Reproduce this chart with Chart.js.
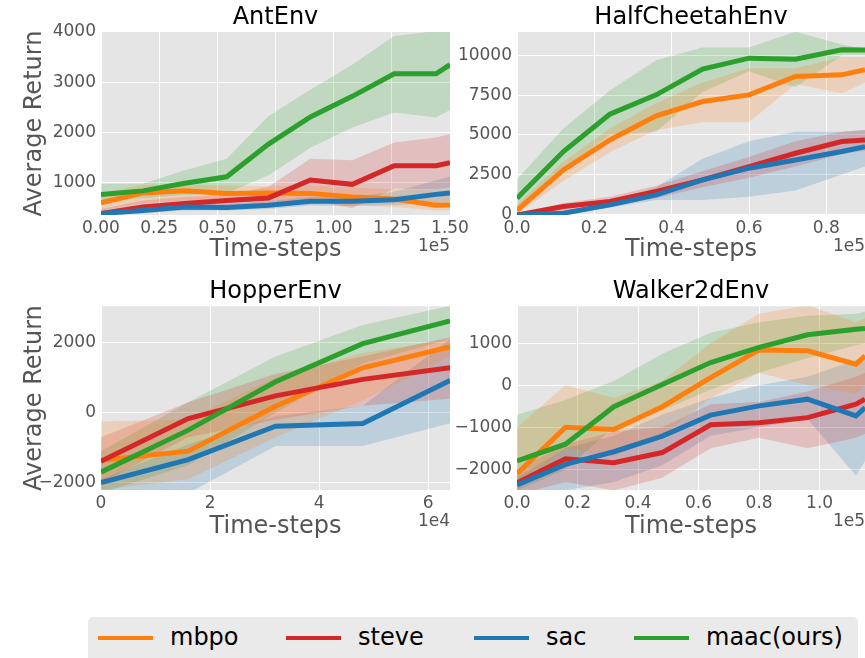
<!DOCTYPE html>
<html>
<head>
<meta charset="utf-8">
<script src="https://cdn.jsdelivr.net/npm/chart.js@4.4.1/dist/chart.umd.min.js"></script>
<style>
  body { margin: 0; width: 865px; height: 658px; overflow: hidden; position: relative; background: #fff; font-family: 'DejaVu Sans', sans-serif; }
  canvas { position: absolute; }
  #legend { position: absolute; left: 88px; top: 617px; width: 770px; height: 52px; background: #eaeaea; border-radius: 5px; }
  .key { position: absolute; top: 19px; width: 55px; height: 4px; }
  .lab { position: absolute; top: 5px; height: 30px; line-height: 30px; font-size: 24px; color: #000; white-space: nowrap; }
</style>
</head>
<body>
<canvas id="ant" width="480" height="270" style="left:0;top:0"></canvas>
<canvas id="cheetah" width="415" height="270" style="left:450px;top:0"></canvas>
<canvas id="hopper" width="480" height="275" style="left:0;top:270px"></canvas>
<canvas id="walker" width="415" height="275" style="left:450px;top:270px"></canvas>

<div id="legend">
  <span class="key" style="left:10px;background:#ff7f0e"></span><span class="lab" style="left:82px">mbpo</span>
  <span class="key" style="left:198px;background:#d62728"></span><span class="lab" style="left:270px">steve</span>
  <span class="key" style="left:386px;background:#1f77b4"></span><span class="lab" style="left:458px">sac</span>
  <span class="key" style="left:546px;background:#2ca02c"></span><span class="lab" style="left:618px">maac(ours)</span>
</div>

<script>
// ---- AntEnv (x in time-steps, shown as 1e5) ----
const antSteps   = [0, 18000, 36000, 54000, 72000, 90000, 108000, 126000, 144000, 150000];
const antMbpo    = [600, 800, 840, 790, 800, 790, 720, 680, 555, 560];
const antMbpoLo  = [450, 600, 650, 600, 650, 600, 560, 520, 450, 450];
const antMbpoHi  = [800, 960, 960, 950, 930, 950, 900, 870, 850, 850];
const antSteve   = [390, 520, 590, 650, 700, 1055, 970, 1340, 1340, 1400];
const antSteveLo = [360, 420, 480, 540, 560, 650, 500, 880, 870, 900];
const antSteveHi = [480, 650, 720, 760, 920, 1480, 1450, 1800, 1900, 1970];
const antSac     = [390, 450, 520, 510, 555, 635, 635, 665, 770, 800];
const antSacLo   = [360, 390, 450, 450, 480, 550, 540, 560, 600, 620];
const antSacHi   = [430, 520, 590, 580, 640, 720, 720, 820, 1050, 1120];
const antMaac    = [770, 840, 990, 1120, 1770, 2310, 2720, 3170, 3170, 3350];
const antMaacLo  = [600, 700, 760, 800, 1150, 1700, 2100, 2400, 2300, 2450];
const antMaacHi  = [980, 980, 1250, 1480, 2330, 2850, 3350, 3920, 4020, 4020];
const antXTicks  = [0, 25000, 50000, 75000, 100000, 125000, 150000];
const antYTicks  = [1000, 2000, 3000, 4000];

// ---- HalfCheetahEnv ----
const hcSteps   = [0, 12000, 24000, 36000, 48000, 60000, 72000, 84000, 90000];
const hcMbpo    = [250, 2790, 4680, 6200, 7100, 7520, 8680, 8780, 9100];
const hcMbpoLo  = [0, 2100, 3900, 5300, 5800, 5800, 8200, 7600, 8300];
const hcMbpoHi  = [600, 3300, 5400, 7000, 8300, 9200, 9200, 9900, 9900];
const hcSteve   = [-50, 480, 800, 1430, 2160, 3000, 3840, 4580, 4680];
const hcSteveLo = [-50, 200, 500, 1000, 1700, 2300, 3000, 3800, 4000];
const hcSteveHi = [0, 700, 1100, 1800, 2700, 3600, 4600, 5200, 5300];
const hcSac     = [-50, 60, 590, 1220, 2160, 2900, 3420, 3950, 4260];
const hcSacLo   = [-50, 0, 400, 900, 900, 1100, 1500, 2500, 3000];
const hcSacHi   = [0, 150, 750, 1700, 3500, 4600, 5200, 5200, 5300];
const hcMaac    = [1000, 3950, 6300, 7520, 9140, 9830, 9770, 10360, 10350];
const hcMaacLo  = [0, 2800, 5000, 5200, 7700, 9000, 8000, 10000, 10000];
const hcMaacHi  = [2200, 5400, 7800, 9700, 10500, 10500, 11500, 10700, 10400];
const hcXTicks  = [0, 20000, 40000, 60000, 80000];
const hcYTicks  = [0, 2500, 5000, 7500, 10000];

// ---- HopperEnv (shown as 1e4) ----
const hopSteps   = [0, 16000, 32000, 48000, 64000];
const hopMbpo    = [-1360, -1100, 180, 1280, 1880];
const hopMbpoLo  = [-2200, -1900, -700, 350, 1600];
const hopMbpoHi  = [-250, -200, 1000, 1700, 2100];
const hopSteve   = [-1390, -170, 480, 950, 1280];
const hopSteveLo = [-2000, -700, -200, 200, 400];
const hopSteveHi = [-700, 300, 1100, 1600, 2150];
const hopSac     = [-2000, -1340, -390, -310, 920];
const hopSacLo   = [-2300, -2300, -950, -950, -300];
const hopSacHi   = [-1900, -900, -100, 200, 2100];
const hopMaac    = [-1700, -500, 880, 1970, 2620];
const hopMaacLo  = [-2300, -1500, 0, 1400, 2100];
const hopMaacHi  = [-1100, 300, 1600, 2500, 3050];
const hopXTicks  = [0, 20000, 40000, 60000];
const hopYTicks  = [-2000, 0, 2000];

// ---- Walker2dEnv ----
const wkSteps   = [0, 16000, 32000, 48000, 64000, 80000, 96000, 112000, 115000];
const wkMbpo    = [-2100, -1000, -1050, -510, 180, 840, 820, 500, 700];
const wkMbpoLo  = [-2500, -1500, -1700, -1200, -300, 300, 0, -200, 0];
const wkMbpoHi  = [-1000, 0, -300, 100, 1000, 1700, 1900, 1500, 1600];
const wkSteve   = [-2320, -1750, -1840, -1600, -940, -890, -770, -450, -330];
const wkSteveLo = [-2600, -2300, -2500, -2200, -1500, -1250, -1500, -1250, -1150];
const wkSteveHi = [-2000, -1400, -1100, -1000, -450, -400, -150, 200, 300];
const wkSac     = [-2370, -1880, -1580, -1210, -710, -490, -330, -730, -530];
const wkSacLo   = [-2600, -2500, -2300, -1900, -1200, -1000, -800, -2150, -1800];
const wkSacHi   = [-2200, -1500, -1200, -700, -300, 0, 200, 600, 700];
const wkMaac    = [-1800, -1400, -510, 20, 540, 900, 1200, 1330, 1350];
const wkMaacLo  = [-2500, -2000, -1000, -600, -100, 300, 650, 950, 1000];
const wkMaacHi  = [-700, -350, 100, 750, 1250, 1500, 1650, 1700, 1750];
const wkXTicks  = [0, 20000, 40000, 60000, 80000, 100000];
const wkYTicks  = [-2000, -1000, 0, 1000];

const methods = ['mbpo', 'steve', 'sac', 'maac(ours)'];
const colors = ['#ff7f0e', '#d62728', '#1f77b4', '#2ca02c'];
const bandColors = ['rgba(255,127,14,0.2)', 'rgba(214,39,40,0.2)', 'rgba(31,119,180,0.2)', 'rgba(44,160,44,0.2)'];

Chart.defaults.font.family = "'DejaVu Sans', sans-serif";

// grey panel behind the plot area
const plotBg = {
    id: 'plotBg',
    beforeDraw(chart) {
        const { ctx, chartArea: a } = chart;
        ctx.save();
        ctx.fillStyle = '#e5e5e5';
        ctx.fillRect(a.left, a.top, a.width, a.height);
        ctx.restore();
    }
};

// the "1e5" / "1e4" offset text under the x axis
const offsetText = {
    id: 'offsetText',
    afterDraw(chart, args, opts) {
        if (!opts.text) return;
        const { ctx, chartArea: a } = chart;
        ctx.save();
        ctx.font = "17px 'DejaVu Sans'";
        ctx.fillStyle = '#555';
        ctx.textAlign = 'right';
        ctx.textBaseline = 'middle';
        ctx.fillText(opts.text, a.right, a.bottom + 32);
        ctx.restore();
    }
};

function buildDatasets(steps, series) {
    const pts = arr => steps.map((s, i) => ({ x: s, y: arr[i] }));
    const ds = [];
    series.forEach(([mean, lo, hi], i) => {
        ds.push({ data: pts(hi), fill: '+1', backgroundColor: bandColors[i], borderColor: 'rgba(0,0,0,0)', borderWidth: 0, pointRadius: 0, order: 10 });
        ds.push({ data: pts(lo), fill: false, borderColor: 'rgba(0,0,0,0)', borderWidth: 0, pointRadius: 0, order: 10 });
        ds.push({ label: methods[i], data: pts(mean), borderColor: colors[i], borderWidth: 5, pointRadius: 0, fill: false, clip: 0, order: 4 - i });
    });
    return ds;
}

const yFmt = v => v < 0 ? '\u2212' + Math.abs(v) : String(v);
const fixTicks = list => axis => { axis.ticks = list.map(v => ({ value: v })); };

function makeChart(id, o) {
    new Chart(document.getElementById(id), {
        type: 'line',
        data: { datasets: buildDatasets(o.steps, o.series) },
        plugins: [plotBg, offsetText],
        options: {
            responsive: false,
            animation: false,
            layout: { padding: { left: 0, right: o.padRight, top: 0, bottom: 0 } },
            plugins: {
                legend: { display: false },
                tooltip: { enabled: false },
                title: {
                    display: true, text: o.title, color: '#000', fullSize: false,
                    font: { size: 24, weight: 'normal' },
                    padding: { top: o.titleTop, bottom: 0 }
                },
                offsetText: { text: o.offset }
            },
            scales: {
                x: {
                    type: 'linear', min: 0, max: o.xMax,
                    afterBuildTicks: fixTicks(o.xTicks),
                    afterFit: a => { a.height = 55; },
                    ticks: { autoSkip: false, maxRotation: 0, padding: 3, color: '#555', font: { size: 17 }, callback: o.xFmt },
                    grid: { color: '#fff', lineWidth: 1, drawTicks: false },
                    border: { display: false },
                    title: { display: true, text: 'Time-steps', color: '#555', font: { size: 24 }, padding: { top: 0, bottom: o.xTitlePad } }
                },
                y: {
                    type: 'linear', min: o.yMin, max: o.yMax,
                    afterBuildTicks: fixTicks(o.yTicks),
                    afterFit: a => { a.width = o.yWidth; },
                    ticks: { autoSkip: false, padding: 5, color: '#555', font: { size: 17 }, callback: yFmt },
                    grid: { color: '#fff', lineWidth: 1, drawTicks: false },
                    border: { display: false },
                    title: { display: o.yTitle, text: 'Average Return', color: '#555', font: { size: 24 }, padding: { top: 20, bottom: 0 } }
                }
            }
        }
    });
}

makeChart('ant', {
    title: 'AntEnv', steps: antSteps,
    series: [[antMbpo, antMbpoLo, antMbpoHi], [antSteve, antSteveLo, antSteveHi], [antSac, antSacLo, antSacHi], [antMaac, antMaacLo, antMaacHi]],
    xMax: 150000, xTicks: antXTicks, xFmt: v => (v / 1e5).toFixed(2), offset: '1e5',
    yMin: 360, yMax: 4000, yTicks: antYTicks, yWidth: 101, yTitle: true,
    padRight: 30, titleTop: 3.2, xTitlePad: 5.6
});

makeChart('cheetah', {
    title: 'HalfCheetahEnv', steps: hcSteps,
    series: [[hcMbpo, hcMbpoLo, hcMbpoHi], [hcSteve, hcSteveLo, hcSteveHi], [hcSac, hcSacLo, hcSacHi], [hcMaac, hcMaacLo, hcMaacHi]],
    xMax: 90000, xTicks: hcXTicks, xFmt: v => (v / 1e5).toFixed(1), offset: '1e5',
    yMin: -50, yMax: 11480, yTicks: hcYTicks, yWidth: 67, yTitle: false,
    padRight: 0, titleTop: 3.2, xTitlePad: 5.6
});

makeChart('hopper', {
    title: 'HopperEnv', steps: hopSteps,
    series: [[hopMbpo, hopMbpoLo, hopMbpoHi], [hopSteve, hopSteveLo, hopSteveHi], [hopSac, hopSacLo, hopSacHi], [hopMaac, hopMaacLo, hopMaacHi]],
    xMax: 64000, xTicks: hopXTicks, xFmt: v => String(Math.round(v / 1e4)), offset: '1e4',
    yMin: -2210, yMax: 3040, yTicks: hopYTicks, yWidth: 101, yTitle: true,
    padRight: 30, titleTop: 7.4, xTitlePad: 4
});

makeChart('walker', {
    title: 'Walker2dEnv', steps: wkSteps,
    series: [[wkMbpo, wkMbpoLo, wkMbpoHi], [wkSteve, wkSteveLo, wkSteveHi], [wkSac, wkSacLo, wkSacHi], [wkMaac, wkMaacLo, wkMaacHi]],
    xMax: 115000, xTicks: wkXTicks, xFmt: v => (v / 1e5).toFixed(1), offset: '1e5',
    yMin: -2490, yMax: 1880, yTicks: wkYTicks, yWidth: 67, yTitle: false,
    padRight: 0, titleTop: 7.4, xTitlePad: 4
});
</script>
</body>
</html>
